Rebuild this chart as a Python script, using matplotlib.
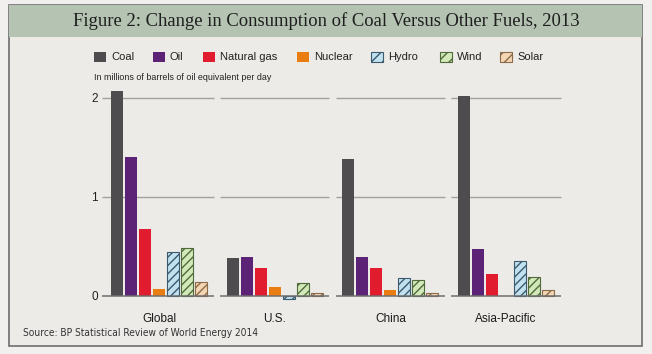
import matplotlib
matplotlib.use("Agg")
import matplotlib.pyplot as plt
from matplotlib.patches import Rectangle

regions = ["Global", "U.S.", "China", "Asia-Pacific"]
fuels = ["Coal", "Oil", "Natural gas", "Nuclear", "Hydro", "Wind", "Solar"]

coal = [2.07, 0.38, 1.38, 2.02]
oil = [1.40, 0.39, 0.39, 0.47]
gas = [0.68, 0.28, 0.28, 0.22]
nuclear = [0.07, 0.09, 0.06, 0.0]
hydro = [0.44, -0.03, 0.18, 0.35]
wind = [0.48, 0.13, 0.165, 0.19]
solar = [0.14, 0.03, 0.03, 0.06]
series = [coal, oil, gas, nuclear, hydro, wind, solar]

fills = ["#4f4c4f", "#5c2276", "#e01c2e", "#e97d12", "#c2e1ee", "#d3e8b8", "#f4d6b3"]
edges = [None, None, None, None, "#3b5a70", "#4f6b3c", "#8b6a4c"]
hatches = [None, None, None, None, "////", "////", "////"]

W, H = 652, 354
fig = plt.figure(figsize=(W / 100, H / 100), dpi=100, facecolor="#f2f0ee")

# outer box and title banner
fig.add_artist(Rectangle((9 / W, 1 - 346 / H), 633 / W, 341 / H, transform=fig.transFigure,
                         facecolor="#ecebe8", edgecolor="#6e6e6e", linewidth=1.2, zorder=-2))
fig.add_artist(Rectangle((9 / W, 1 - 37 / H), 633 / W, 32 / H, transform=fig.transFigure,
                         facecolor="#b5c4b2", edgecolor="none", zorder=-1))
fig.text(326 / W, 1 - 21 / H, "Figure 2: Change in Consumption of Coal Versus Other Fuels, 2013",
         ha="center", va="center", fontsize=13.4, family="Liberation Serif", color="#1e1e1e")

# plot area in pixel-derived units (group spacing = 1)
ax = fig.add_axes([100 / W, 1 - 305.9 / H, 475 / W, 223.1 / H])
ax.set_facecolor("none")
px = 1 / 115.67
ax.set_xlim(-59 * px, 416 * px)
ax.set_ylim(-0.1, 2.15)

for j, vals in enumerate(series):
    xs = [i + (j - 3) * 14 * px for i in range(len(regions))]
    ax.bar(xs, vals, width=12 * px, color=fills[j], edgecolor=edges[j] or "none",
           hatch=hatches[j], linewidth=0.8 if edges[j] else 0, zorder=3)

for i in range(len(regions)):
    left = i - (0.49 if i == 0 else 0.472)
    ax.hlines([1, 2], left, i + 0.472, color="#a3a19e", linewidth=1.0, zorder=1)
    ax.hlines(0, left, i + 0.472, color="#6f6f6f", linewidth=1.1, zorder=4)

for s in ax.spines.values():
    s.set_visible(False)
ax.set_yticks([0, 1, 2])
ax.set_yticklabels(["0", "1", "2"])
ax.set_xticks(range(len(regions)))
ax.set_xticklabels(regions)
ax.tick_params(axis="y", length=0, pad=1.5, labelsize=8.5, labelcolor="#222222")
ax.tick_params(axis="x", length=0, pad=5, labelsize=8.5, labelcolor="#1a1a1a")
for lab in ax.get_xticklabels() + ax.get_yticklabels():
    lab.set_family("Liberation Sans")

# legend row
sq_x = [94, 153, 203, 297, 371, 440, 500]
for j, name in enumerate(fuels):
    fig.add_artist(Rectangle((sq_x[j] / W, 1 - 62 / H), 12 / W, 10 / H, transform=fig.transFigure,
                             facecolor=fills[j], edgecolor=edges[j] or "none",
                             hatch="///" if hatches[j] else None, linewidth=0.8 if edges[j] else 0))
    fig.text((sq_x[j] + 17) / W, 1 - 57.5 / H, name, ha="left", va="center", fontsize=8,
             family="Liberation Sans", color="#222222")
fig.text(94 / W, 1 - 77 / H, "In millions of barrels of oil equivalent per day", ha="left",
         va="center", fontsize=6.4, family="Liberation Sans", color="#222222")

fig.text(23 / W, 1 - 333 / H, "Source: BP Statistical Review of World Energy 2014", ha="left",
         va="center", fontsize=7.3, family="DejaVu Sans", fontstretch="condensed", color="#333333")

fig.savefig("out.png", dpi=100, facecolor=fig.get_facecolor())
